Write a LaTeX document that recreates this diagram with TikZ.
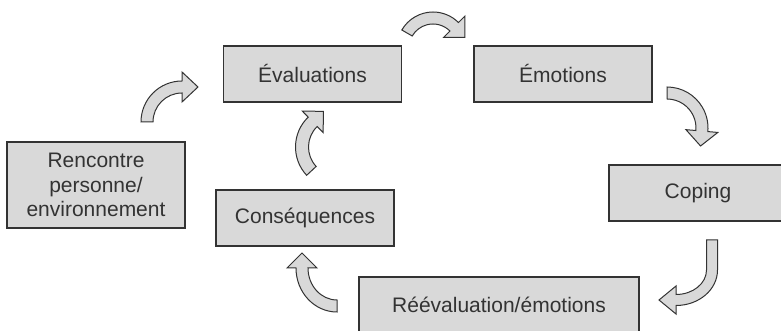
\documentclass[tikz,border=0pt]{standalone}
\usepackage{fontspec}
\setmainfont{Liberation Sans}
\definecolor{boxfill}{HTML}{D9D9D9}
\definecolor{edge}{HTML}{333333}
\newcommand{\cwarrow}[9]{%
  \pgfmathsetmacro{\cwTx}{#3*sin(#6)}%
  \pgfmathsetmacro{\cwTy}{-#4*cos(#6)}%
  \pgfmathsetmacro{\cwTn}{veclen(\cwTx,\cwTy)}%
  \pgfmathsetmacro{\cwUx}{\cwTx/\cwTn}%
  \pgfmathsetmacro{\cwUy}{\cwTy/\cwTn}%
  \filldraw[blockarrow] ({#1+(#3+#7)*cos(#5)},{#2+(#4+#7)*sin(#5)})
    arc[start angle=#5, end angle=#6, x radius=#3+#7, y radius=#4+#7]
    -- ({#1+(#3+#8)*cos(#6)},{#2+(#4+#8)*sin(#6)})
    -- ({#1+#3*cos(#6)+#9*\cwUx},{#2+#4*sin(#6)+#9*\cwUy})
    -- ({#1+(#3-#8)*cos(#6)},{#2+(#4-#8)*sin(#6)})
    -- ({#1+(#3-#7)*cos(#6)},{#2+(#4-#7)*sin(#6)})
    arc[start angle=#6, end angle=#5, x radius=#3-#7, y radius=#4-#7]
    -- cycle;}
\begin{document}
\begin{tikzpicture}[x=1pt,y=1pt,
  stagebox/.style={draw=edge, fill=boxfill, line width=1.3pt, rectangle,
    minimum height=56pt, minimum width=178pt, inner sep=0pt,
    text=edge, font=\fontsize{21}{24.5}\selectfont, align=center},
  blockarrow/.style={draw=edge, fill=boxfill, line width=1pt, line join=miter}]
\useasboundingbox (0,0) rectangle (781,331);
\clip (0,0) rectangle (781,331);
% boxes
\node[stagebox] (eval) at (312.5,257) {Évaluations};
\node[stagebox] (emo) at (563,257) {Émotions};
\node[stagebox] (cop) at (698,138) {Coping};
\node[stagebox, minimum height=86pt] (renc) at (96,146) {Rencontre\\personne/\\environnement};
\node[stagebox] (cons) at (305,113) {Conséquences};
\node[stagebox, minimum width=280pt] (reev) at (499,26) {Réévaluation/émotions};
% curved block arrows
\cwarrow{182}{209}{35}{35}{180}{90}{6}{15}{16}
\cwarrow{433}{283}{30}{30}{150}{45}{6}{15}{15}
\cwarrow{667}{203}{35}{35}{90}{-5}{6}{16}{15}
\filldraw[blockarrow] (717.5,91) -- (717.5,61)
  arc[start angle=0, end angle=-90, x radius=41.5, y radius=35.5]
  -- (676,17) -- (659,31) -- (676,45) -- (676,36.5)
  arc[start angle=-90, end angle=0, x radius=30.5, y radius=24.5]
  -- (706.5,91) -- cycle;
\cwarrow{337}{63}{35}{38}{-90}{-180}{6}{15}{15}
\cwarrow{337}{184}{35}{35}{223}{134}{6.5}{15}{15}
\end{tikzpicture}
\end{document}
